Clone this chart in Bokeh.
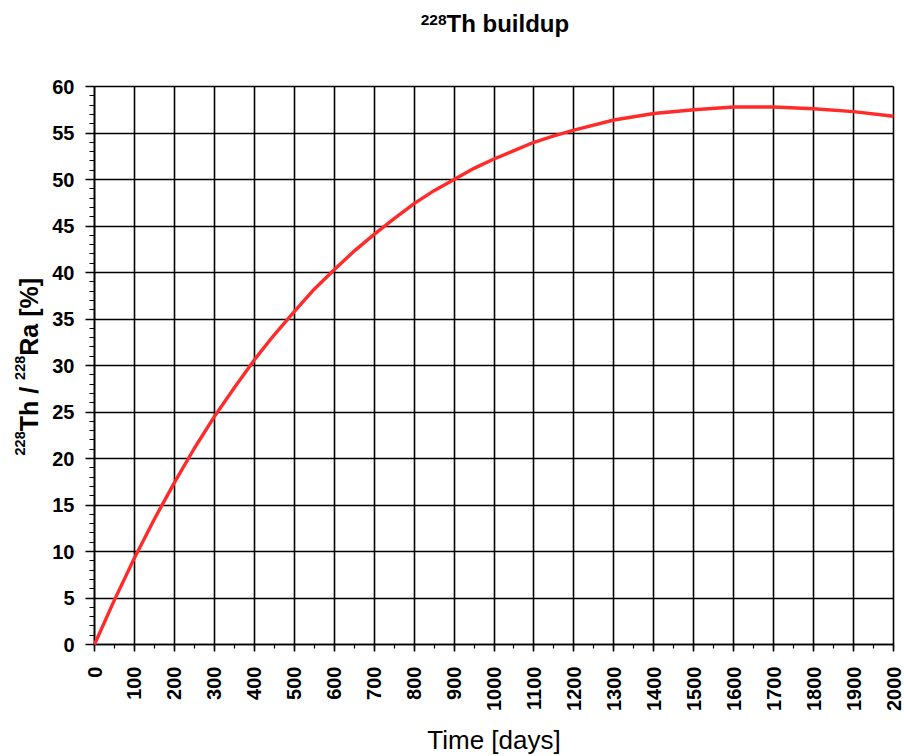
import math
from bokeh.plotting import figure
from bokeh.models import Range1d, SingleIntervalTicker, Label
from bokeh.embed import file_html
from bokeh.resources import INLINE

# ---- data ----
days = [0, 50, 100, 150, 200, 250, 300, 350, 400, 450, 500, 550, 600, 650, 700, 750, 800,
        850, 900, 950, 1000, 1050, 1100, 1150, 1200, 1300, 1400, 1500, 1600, 1700, 1800,
        1900, 2000]
ratio_pct = [0.0, 4.8, 9.3, 13.5, 17.4, 21.1, 24.5, 27.6, 30.6, 33.3, 35.8, 38.2, 40.3, 42.3,
             44.1, 45.8, 47.4, 48.8, 50.0, 51.2, 52.2, 53.1, 54.0, 54.7, 55.3, 56.4, 57.1,
             57.5, 57.8, 57.8, 57.6, 57.3, 56.8]
x_min, x_max, x_step = 0, 2000, 100
y_min, y_max, y_step = 0, 60, 5
title_sup = "228"
title_main = "Th buildup"
y_label_parts = [("228", True), ("Th / ", False), ("228", True), ("Ra [%]", False)]
x_label = "Time [days]"

# ---- layout (pixels) ----
W, H = 904, 756
PL, PR, PT, PB = 94, 893, 86, 644   # plot box in canvas pixels
BASE_SHIFT = 0.38                    # empirical baseline correction (fraction of font size)

sx = (x_max - x_min) / (PR - PL)
sy = (y_max - y_min) / (PB - PT)

def dx(px):
    return x_min + (px - PL) * sx

def dy(py):
    return y_min + (PB - py) * sy

p = figure(width=W, height=H, output_backend="svg", toolbar_location=None,
           x_range=Range1d(dx(0), dx(W)), y_range=Range1d(dy(H), dy(0)), title=None)
p.min_border = 0
p.background_fill_color = "white"
p.border_fill_color = "white"
p.outline_line_color = None
p.grid.visible = False

p.xaxis.ticker = SingleIntervalTicker(interval=x_step, num_minor_ticks=2)
p.yaxis.ticker = SingleIntervalTicker(interval=y_step, num_minor_ticks=5)
p.xaxis.fixed_location = y_min
p.yaxis.fixed_location = x_min
p.xaxis.bounds = (x_min, x_max)
p.yaxis.bounds = (y_min, y_max)

for ax in (p.xaxis, p.yaxis):
    ax.level = "underlay"
    ax.axis_line_color = "black"
    ax.axis_line_width = 1.6
    ax.major_tick_line_color = "black"
    ax.major_tick_line_width = 1.6
    ax.minor_tick_line_color = "black"
    ax.minor_tick_line_width = 1.2
    ax.minor_tick_in = 0
    ax.major_label_text_font = "Liberation Sans"
    ax.major_label_text_font_style = "bold"
    ax.major_label_text_font_size = "20px"
    ax.major_label_text_color = "black"

# major ticks drawn across the plot act as the grid lines
p.xaxis.major_tick_in = PB - PT
p.yaxis.major_tick_in = PR - PL
p.yaxis.major_tick_out = 9
p.yaxis.minor_tick_out = 5
p.yaxis.major_label_standoff = 11
p.xaxis.major_tick_out = 7
p.xaxis.minor_tick_out = 4
p.xaxis.major_label_standoff = 15
p.xaxis.major_label_orientation = math.pi / 2

p.line(days, ratio_pct, line_color="#ff2b2b", line_width=3.4)

# approximate advance widths (Arial/Liberation Sans Bold, per 1000 em)
ADV = {"2": 556, "8": 556, "T": 611, "h": 611, " ": 278, "/": 278, "R": 722,
       "a": 556, "[": 333, "%": 889, "]": 333}

def text_w(s, size):
    return sum(ADV.get(c, 556) for c in s) * size / 1000.0

# title with superscript
TITLE_X = 446
T_MAIN, T_SUP = 24, 15.5
p.add_layout(Label(x=dx(TITLE_X), y=dy(32 - BASE_SHIFT * T_MAIN), text=title_main,
                   text_font="Liberation Sans", text_font_style="bold",
                   text_font_size=f"{T_MAIN}px", text_align="left",
                   text_baseline="alphabetic", text_color="black"))
p.add_layout(Label(x=dx(TITLE_X), y=dy(25 - BASE_SHIFT * T_SUP), text=title_sup,
                   text_font="Liberation Sans", text_font_style="bold",
                   text_font_size=f"{T_SUP}px", text_align="right",
                   text_baseline="alphabetic", text_color="black"))

# y-axis label (rotated) with superscripts, chained from bottom
MAIN_SIZE, SUP_SIZE = 25, 14.5
pos = 455.0
for part, is_sup in y_label_parts:
    size = SUP_SIZE if is_sup else MAIN_SIZE
    base_x = (25 if is_sup else 38) - BASE_SHIFT * size
    p.add_layout(Label(x=dx(base_x), y=dy(pos), text=part,
                       angle=math.pi / 2, text_font="Liberation Sans", text_font_style="bold",
                       text_font_size=f"{size}px", text_align="left",
                       text_baseline="alphabetic", text_color="black"))
    pos -= text_w(part, size)

# x-axis label
XL_SIZE = 26
p.add_layout(Label(x=dx((PL + PR) / 2), y=dy(749 - BASE_SHIFT * XL_SIZE), text=x_label,
                   text_font="Liberation Sans", text_font_size=f"{XL_SIZE}px",
                   text_align="center", text_baseline="alphabetic", text_color="black"))

open("out.html", "w").write(file_html(p, INLINE))
